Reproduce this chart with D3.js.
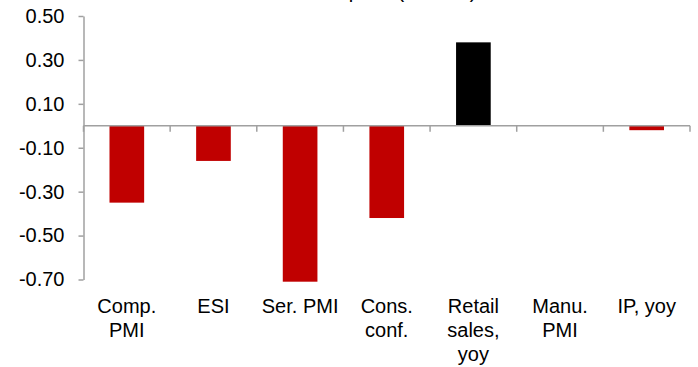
<!DOCTYPE html>
<html>
<head>
<meta charset="utf-8">
<script src="https://cdn.jsdelivr.net/npm/d3@7"></script>
<style>
  html, body { margin: 0; padding: 0; background: #fff; }
  svg { display: block; }
  text { font-family: "Liberation Sans", Arial, sans-serif; fill: #000; }
</style>
</head>
<body>
<div id="chart"></div>
<script>
// Indicator names (line breaks mark how each label wraps)
const categories = ["Comp.\nPMI", "ESI", "Ser. PMI", "Cons.\nconf.", "Retail\nsales,\nyoy", "Manu.\nPMI", "IP, yoy"];
// Surprise per indicator
const values = [-0.35, -0.16, -0.71, -0.42, 0.38, 0.00, -0.02];
// Bar colours: positives black, negatives red
const barColors = ["#c00000", "#c00000", "#c00000", "#c00000", "#000000", "#c00000", "#c00000"];
// Y axis ticks and their labels
const yTicks = [0.5, 0.3, 0.1, -0.1, -0.3, -0.5, -0.7];
const yTickLabels = ["0.50", "0.30", "0.10", "-0.10", "-0.30", "-0.50", "-0.70"];
const title = "Surprise (z-score)";

const W = 698, H = 367;
const axisColor = "#a0a0a0";

const svg = d3.select("#chart").append("svg")
  .attr("width", W).attr("height", H);

const x = d3.scaleBand()
  .domain(categories)
  .range([83.5, 690])
  .paddingInner(0.6)
  .paddingOuter(0.3);

const y = d3.scaleLinear()
  .domain([-0.7, 0.5])
  .range([279.5, 16]);

// Title (sits mostly above the top edge)
svg.append("text")
  .attr("x", 317.6)
  .attr("y", -2)
  .attr("font-size", 20)
  .text(title);

// Bars
svg.append("g").selectAll("rect")
  .data(values)
  .join("rect")
  .attr("x", (d, i) => x(categories[i]))
  .attr("width", x.bandwidth())
  .attr("y", d => y(Math.max(0, d)))
  .attr("height", d => Math.abs(y(d) - y(0)))
  .attr("fill", (d, i) => barColors[i]);

// Y axis
const yAxis = svg.append("g")
  .attr("transform", `translate(${x.range()[0]},0)`)
  .call(d3.axisLeft(y)
    .tickValues(yTicks)
    .tickFormat((d, i) => yTickLabels[i])
    .tickSizeInner(5)
    .tickSizeOuter(0)
    .tickPadding(14));
yAxis.select(".domain").attr("stroke", axisColor).attr("stroke-width", 1.5);
yAxis.selectAll(".tick line").attr("stroke", axisColor).attr("stroke-width", 1.5);
yAxis.selectAll(".tick text")
  .attr("font-size", 20)
  .attr("font-family", "'Liberation Sans', Arial, sans-serif")
  .attr("fill", "#000");

// X axis along zero, with ticks at category boundaries
const x0 = x.range()[0], x1 = x.range()[1];
const gx = svg.append("g");
gx.append("line")
  .attr("x1", x0).attr("x2", x1)
  .attr("y1", y(0)).attr("y2", y(0))
  .attr("stroke", axisColor).attr("stroke-width", 1.5);
gx.selectAll("line.tk")
  .data(d3.range(categories.length + 1))
  .join("line")
  .attr("class", "tk")
  .attr("x1", i => x0 + i * x.step())
  .attr("x2", i => x0 + i * x.step())
  .attr("y1", y(0))
  .attr("y2", y(0) + 6)
  .attr("stroke", axisColor).attr("stroke-width", 1.5);

// Category labels below the plot
const labels = svg.append("g").selectAll("text")
  .data(categories)
  .join("text")
  .attr("font-size", 20)
  .attr("text-anchor", "middle")
  .attr("y", y(-0.7) + 33.5);
labels.each(function (c) {
  const cx = x(c) + x.bandwidth() / 2;
  d3.select(this).selectAll("tspan")
    .data(c.split("\n"))
    .join("tspan")
    .attr("x", cx)
    .attr("dy", (d, i) => i === 0 ? 0 : 24)
    .text(d => d);
});
</script>
</body>
</html>
